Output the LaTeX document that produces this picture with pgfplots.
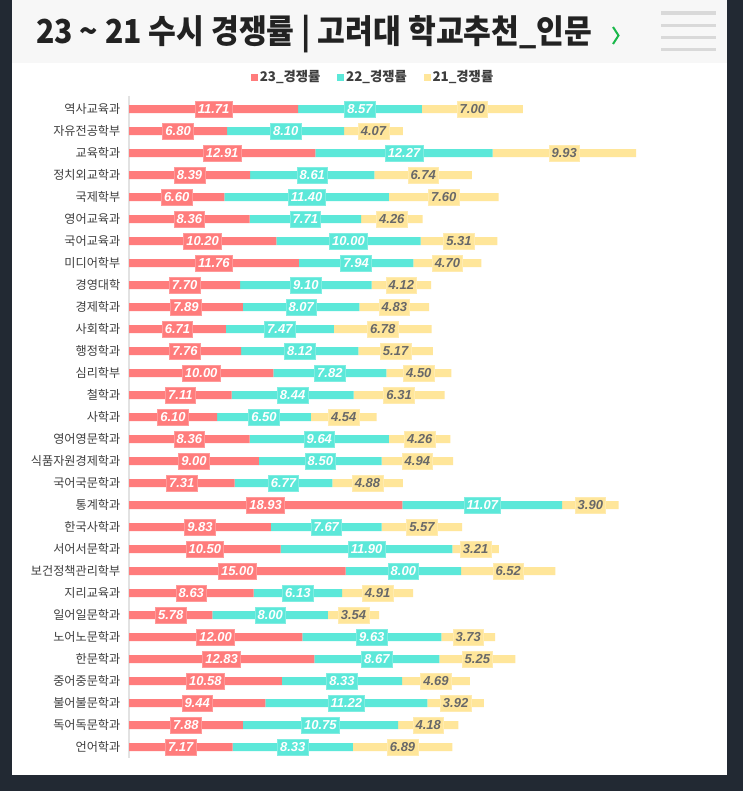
\documentclass[border=0pt]{standalone}
\usepackage{pgfplots}
\pgfplotsset{compat=1.18}
\usepackage{pgfplotstable}
\usepackage{graphicx}
\usepackage{fontspec}
\setmainfont{Liberation Sans}
\newfontfamily\kr{Noto Sans CJK KR}
\definecolor{bgdark}{HTML}{222933}
\definecolor{band}{HTML}{F7F7F7}
\definecolor{ham}{HTML}{D9D9D9}
\definecolor{chev}{HTML}{1AB84A}
\definecolor{titlecol}{HTML}{222222}
\definecolor{labgray}{HTML}{3E3E3E}
\definecolor{axisgray}{HTML}{E2E2E2}
\definecolor{cA}{HTML}{FF7C7C}
\definecolor{cB}{HTML}{5CE8D9}
\definecolor{cC}{HTML}{FFE69A}
\definecolor{cCtext}{HTML}{686868}

\pgfplotstableread{
idx name a b c
0 역사교육과 11.71 8.57 7.00
1 자유전공학부 6.80 8.10 4.07
2 교육학과 12.91 12.27 9.93
3 정치외교학과 8.39 8.61 6.74
4 국제학부 6.60 11.40 7.60
5 영어교육과 8.36 7.71 4.26
6 국어교육과 10.20 10.00 5.31
7 미디어학부 11.76 7.94 4.70
8 경영대학 7.70 9.10 4.12
9 경제학과 7.89 8.07 4.83
10 사회학과 6.71 7.47 6.78
11 행정학과 7.76 8.12 5.17
12 심리학부 10.00 7.82 4.50
13 철학과 7.11 8.44 6.31
14 사학과 6.10 6.50 4.54
15 영어영문학과 8.36 9.64 4.26
16 식품자원경제학과 9.00 8.50 4.94
17 국어국문학과 7.31 6.77 4.88
18 통계학과 18.93 11.07 3.90
19 한국사학과 9.83 7.67 5.57
20 서어서문학과 10.50 11.90 3.21
21 보건정책관리학부 15.00 8.00 6.52
22 지리교육과 8.63 6.13 4.91
23 일어일문학과 5.78 8.00 3.54
24 노어노문학과 12.00 9.63 3.73
25 한문학과 12.83 8.67 5.25
26 중어중문학과 10.58 8.33 4.69
27 불어불문학과 9.44 11.22 3.92
28 독어독문학과 7.88 10.75 4.18
29 언어학과 7.17 8.33 6.89
}\data

\pgfplotsset{
  common/.style={
    at={(96.75pt,-71.85pt)}, anchor=north west,
    scale only axis, width=384.47pt, height=496.65pt,
    xmin=0, xmax=35.5, ymin=-0.6, ymax=29.5, y dir=reverse, clip=false,
  },
  sqleg/.style={legend image code/.code={\fill[##1] (0pt,-2.7pt) rectangle (5.3pt,2.6pt);}},
}

\begin{document}
\begin{tikzpicture}
\path[use as bounding box] (0,0) rectangle (557.25pt,-593.25pt);
\fill[bgdark] (0,0) rectangle (557.25pt,-593.25pt);
\begin{scope}[x=0.75pt,y=-0.75pt]
  \fill[white] (12,0) rectangle (727,775);
  \fill[band] (12,0) rectangle (727,63);
  \foreach \yy in {13,25.5,37.5,49.5} \draw[ham, line width=2.4pt] (661,\yy) -- (716,\yy);
  \draw[chev, line width=1.5pt] (613,27) -- (618.5,35.5) -- (613,44);
  \node[anchor=west, inner sep=0pt, text=titlecol] at (36,34)
    {\scalebox{0.915}[1]{\kr\bfseries\fontsize{24.75}{28}\selectfont 23 \textasciitilde{} 21 수시 경쟁률 | 고려대 학교추천\_인문}};
\end{scope}

\begin{axis}[common,
  xbar stacked, bar width=6pt,
  axis x line=none, axis y line*=left,
  y axis line style={draw=axisgray, line width=1.5pt, -},
  ytick={0,...,29}, yticklabels from table={\data}{name},
  major tick length=0pt, ytick style={draw=none}, xtick=\empty,
  yticklabel style={font=\kr\fontsize{9.1}{10}\selectfont, text=labgray, xshift=-3pt},
  legend columns=3,
  legend style={at={(axis description cs:0.476,1.0284)}, anchor=center, draw=none, fill=none,
    font=\kr\bfseries\fontsize{10}{11}\selectfont, text=labgray,
    /tikz/every even column/.append style={column sep=11pt},
    nodes={inner xsep=1.5pt},
    inner sep=0pt},
]
\addplot[fill=cA, draw=none, sqleg] table[x=a, y=idx]{\data};
\addplot[fill=cB, draw=none, sqleg] table[x=b, y=idx]{\data};
\addplot[fill=cC, draw=none, sqleg] table[x=c, y=idx]{\data};
\legend{23\_경쟁률, 22\_경쟁률, 21\_경쟁률}
\end{axis}

\begin{axis}[common, hide axis,
  nodes near coords, point meta=explicit symbolic,
  every node near coord/.append style={anchor=center,
    font=\bfseries\itshape\fontsize{9.75}{11}\selectfont,
    inner xsep=2pt, inner ysep=2.4pt, text height=7pt, text depth=0pt, line width=0.5pt},
]
\addplot[draw=none, mark=none, every node near coord/.append style={fill=cA, draw=cA!78!white, text=white}]
  table[x expr=\thisrow{a}/2, y=idx, meta=a]{\data};
\addplot[draw=none, mark=none, every node near coord/.append style={fill=cB, draw=cB!78!white, text=white}]
  table[x expr=\thisrow{a}+\thisrow{b}/2, y=idx, meta=b]{\data};
\addplot[draw=none, mark=none, every node near coord/.append style={fill=cC, draw=cC!78!white, text=cCtext}]
  table[x expr=\thisrow{a}+\thisrow{b}+\thisrow{c}/2, y=idx, meta=c]{\data};
\end{axis}
\end{tikzpicture}
\end{document}
